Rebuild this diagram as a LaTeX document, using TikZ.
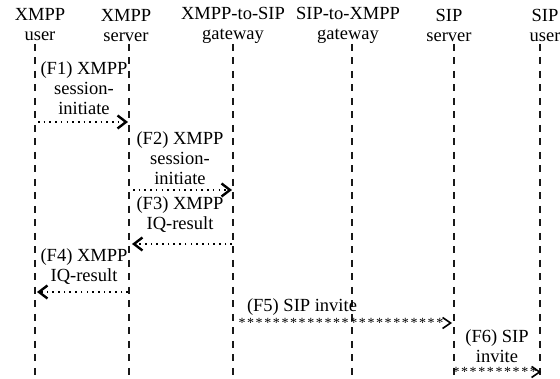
\documentclass[tikz,border=0pt]{standalone}
\usepackage{fontspec}
\setmainfont{Liberation Serif}
\usetikzlibrary{arrows.meta,decorations.markings}
\begin{document}
\begin{tikzpicture}[x=1pt,y=-1pt,
  every node/.style={font=\fontsize{18.5}{20}\selectfont, inner sep=0pt, align=center},
  lifeline/.style={line width=1.4pt, black!90, dash pattern=on 7pt off 6.5pt},
  dotarrow/.style={line width=1.6pt, dash pattern=on 1.6pt off 4.1pt,
    -{Straight Barb[length=8.5pt,width=13pt,line width=2.4pt]}},
  stararrow/.style={line width=1pt, dash pattern=on 0pt off 3000pt,
    -{Straight Barb[length=8pt,width=11pt,line width=1.6pt]},
    postaction={decorate},
    decoration={markings, mark=between positions 0 and 0.98 step 8.6pt with {\node[font=\fontsize{14}{14}\selectfont]{*};}}},
]
\useasboundingbox (0,0) rectangle (560,379);

% headers
\node (h1) at (40,25) {XMPP\\user};
\node (h2) at (126,26) {XMPP\\server};
\node (h3) at (233,25) {XMPP-to-SIP\\gateway};
\node (h4) at (348,25) {SIP-to-XMPP\\gateway};
\node (h5) at (449,25) {SIP\\server};
\node (h6) at (545,25) {SIP\\user};

% lifelines
\foreach \n/\x in {1/35,2/129,3/233,4/352,5/454,6/540}{
  \coordinate (t\n) at (\x,44);
  \coordinate (b\n) at (\x,379);
  \draw[lifeline] (t\n) -- (b\n);
}

% labels
\node (l1) at (84,88) {(F1) XMPP\\session-\\initiate};
\node (l2) at (180,158) {(F2) XMPP\\session-\\initiate};
\node (l3) at (180,215) {(F3) XMPP\\IQ-result};
\node (l4) at (84,267) {(F4) XMPP\\IQ-result};
\node (l5) at (302,307) {(F5) SIP invite};
\node (l6) at (497,346) {(F6) SIP\\invite};

% arrow end points
\coordinate (a1) at (38,122);  \coordinate (e1) at (128,122);
\coordinate (a2) at (133,190); \coordinate (e2) at (232,190);
\coordinate (a3) at (232,244); \coordinate (e3) at (132,244);
\coordinate (a4) at (128,292); \coordinate (e4) at (37,292);
\coordinate (a5) at (242,323); \coordinate (e5) at (452,323);
\coordinate (a6) at (456,372); \coordinate (e6) at (541,372);

\draw[dotarrow] (a1) -- (e1);
\draw[dotarrow] (a2) -- (e2);
\draw[dotarrow] (a3) -- (e3);
\draw[dotarrow] (a4) -- (e4);
\draw[stararrow] (a5) -- (e5);
\draw[stararrow] (a6) -- (e6);
\end{tikzpicture}
\end{document}
